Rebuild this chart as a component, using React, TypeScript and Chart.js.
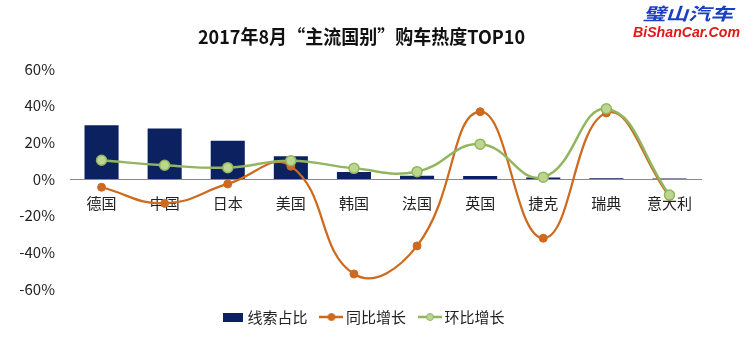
import React, { useEffect, useRef } from "react";
import { Chart, registerables } from "chart.js";

Chart.register(...registerables);

const categories = ["德国", "中国", "日本", "美国", "韩国", "法国", "英国", "捷克", "瑞典", "意大利"];
const leadShare = [29.3, 27.6, 20.9, 12.4, 3.8, 1.8, 1.7, 0.8, 0.4, 0.3];
const yoyGrowth = [-4.5, -13.3, -2.7, 7.0, -51.8, -36.5, 36.7, -32.3, 36.0, -9.5];
const momGrowth = [10.2, 7.5, 6.2, 10.0, 5.8, 4.0, 19.0, 1.0, 38.3, -8.7];
const seriesNames = ["线索占比", "同比增长", "环比增长"];
const yTicks = [-60, -40, -20, 0, 20, 40, 60];
const titleText = "2017年8月“主流国别”购车热度TOP10";
const logoCn = "璧山汽车";
const logoEn = "BiShanCar.Com";

const NAVY = "#0c2260";
const ORANGE = "#cd6a1f";
const GREEN = "#92b65f";
const GREEN_FILL = "#bcd68f";
const FONT = "'Noto Sans CJK SC', 'Noto Sans', sans-serif";

function makeBarIcon() {
  const c = document.createElement("canvas");
  c.width = 20;
  c.height = 9;
  const ctx = c.getContext("2d")!;
  ctx.fillStyle = NAVY;
  ctx.fillRect(0, 0, 20, 9);
  return c;
}

function makeLineIcon(line: string, fill: string, r: number) {
  const c = document.createElement("canvas");
  c.width = 24;
  c.height = 12;
  const ctx = c.getContext("2d")!;
  ctx.strokeStyle = line;
  ctx.lineWidth = 2.5;
  ctx.beginPath();
  ctx.moveTo(0, 6);
  ctx.lineTo(24, 6);
  ctx.stroke();
  ctx.fillStyle = fill;
  ctx.beginPath();
  ctx.arc(12, 6, r, 0, Math.PI * 2);
  ctx.fill();
  ctx.lineWidth = 1;
  ctx.stroke();
  return c;
}

const decorPlugin = {
  id: "decor",
  afterDraw(chart: any) {
    const ctx = chart.ctx as CanvasRenderingContext2D;
    ctx.save();
    ctx.font = `bold 19px ${FONT}`;
    ctx.fillStyle = "#111";
    ctx.textAlign = "center";
    ctx.textBaseline = "middle";
    const tw = ctx.measureText(titleText).width;
    ctx.translate(361.5, 37);
    ctx.scale(327 / tw, 1);
    ctx.fillText(titleText, 0, 0);
    ctx.restore();

    ctx.save();
    ctx.font = `bold italic 17px ${FONT}`;
    ctx.fillStyle = "#1b3fc4";
    ctx.textAlign = "center";
    ctx.textBaseline = "middle";
    let w = ctx.measureText(logoCn).width;
    ctx.translate(688, 14);
    ctx.scale(90 / w, 1);
    ctx.fillText(logoCn, 0, 0);
    ctx.restore();

    ctx.save();
    ctx.font = `bold italic 15px 'Liberation Sans', sans-serif`;
    ctx.fillStyle = "#e01818";
    ctx.textAlign = "center";
    ctx.textBaseline = "middle";
    w = ctx.measureText(logoEn).width;
    ctx.translate(686.5, 33);
    ctx.scale(107 / w, 1);
    ctx.fillText(logoEn, 0, 0);
    ctx.restore();
  },
};

export default function App() {
  const ref = useRef<HTMLCanvasElement>(null);

  useEffect(() => {
    if (!ref.current) return;
    const icons = [
      makeBarIcon(),
      makeLineIcon(ORANGE, ORANGE, 3.5),
      makeLineIcon(GREEN, GREEN_FILL, 3.5),
    ];

    const chart = new Chart(ref.current, {
      type: "bar",
      data: {
        labels: categories,
        datasets: [
          {
            type: "bar",
            label: seriesNames[0],
            data: leadShare,
            backgroundColor: NAVY,
            borderWidth: 0,
            categoryPercentage: 1,
            barPercentage: 0.54,
            order: 3,
          },
          {
            type: "line",
            label: seriesNames[1],
            data: yoyGrowth,
            borderColor: ORANGE,
            backgroundColor: ORANGE,
            borderWidth: 2.25,
            pointRadius: 4,
            pointBackgroundColor: ORANGE,
            pointBorderColor: ORANGE,
            pointBorderWidth: 1,
            tension: 0.45,
            fill: false,
            order: 2,
          },
          {
            type: "line",
            label: seriesNames[2],
            data: momGrowth,
            borderColor: GREEN,
            backgroundColor: GREEN_FILL,
            borderWidth: 2.5,
            pointRadius: 5,
            pointBackgroundColor: GREEN_FILL,
            pointBorderColor: GREEN,
            pointBorderWidth: 1.5,
            tension: 0.45,
            fill: false,
            order: 1,
          },
        ],
      } as any,
      plugins: [decorPlugin],
      options: {
        animation: false,
        responsive: false,
        maintainAspectRatio: false,
        layout: { padding: { top: 69, bottom: 19.5, left: 0, right: 13.5 } },
        scales: {
          x: {
            position: { y: 0 } as any,
            grid: { display: false, drawTicks: false },
            border: { display: true, color: "#8a8a8a", width: 1 },
            ticks: {
              color: "#222",
              font: { family: FONT, size: 15 },
              padding: 15,
              maxRotation: 0,
              autoSkip: false,
            },
            afterFit: (s: any) => {
              s.height = 0;
            },
          },
          y: {
            position: "left",
            min: -60,
            max: 60,
            grid: { display: false, drawTicks: false },
            border: { display: false },
            afterBuildTicks: (s: any) => {
              s.ticks = yTicks.map((v) => ({ value: v }));
            },
            ticks: {
              color: "#222",
              font: { family: FONT, size: 15 },
              padding: 15,
              callback: (v: any) => `${v}%`,
            },
            afterFit: (s: any) => {
              s.width = 70;
            },
          },
          ySpacer: {
            type: "linear",
            position: "right",
            min: -60,
            max: 60,
            grid: { display: false, drawTicks: false },
            border: { display: false },
            ticks: { display: false },
            afterFit: (s: any) => {
              s.width = 29.5;
            },
          },
        },
        plugins: {
          title: { display: false },
          tooltip: { enabled: false },
          legend: {
            display: true,
            position: "bottom",
            align: "center",
            title: {
              display: true,
              text: "",
              font: { size: 1, lineHeight: 1 },
              padding: { top: 2.5, bottom: 0 },
            },
            labels: {
              usePointStyle: true,
              pointStyleWidth: 14,
              padding: 17,
              color: "#222",
              font: { family: FONT, size: 15 },
              generateLabels: () =>
                seriesNames.map((name, i) => ({
                  text: name,
                  pointStyle: icons[i],
                  fillStyle: "transparent",
                  strokeStyle: "transparent",
                  lineWidth: 0,
                  hidden: false,
                  datasetIndex: i,
                  fontColor: "#222",
                })),
            },
          },
        },
      } as any,
    });
    return () => chart.destroy();
  }, []);

  return (
    <div style={{ position: "fixed", left: 0, top: 0, width: 744, height: 354, background: "#fff" }}>
      <canvas ref={ref} width={744} height={354} style={{ width: 744, height: 354, display: "block" }} />
    </div>
  );
}
